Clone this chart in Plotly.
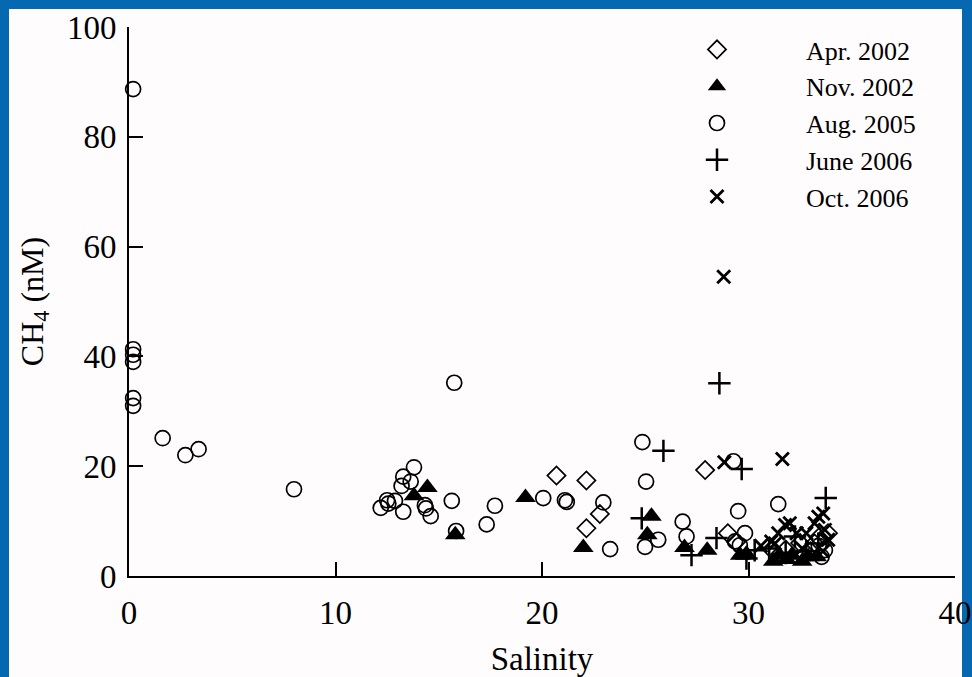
import plotly.graph_objects as go

# ---- data (salinity, CH4 nM) ----
apr2002_sal = [20.7, 22.15, 22.15, 22.8, 27.9, 29.0, 29.4, 31.0, 31.8, 32.5, 33.2, 33.4, 33.85, 33.0]
apr2002_ch4 = [18.3, 17.4, 8.7, 11.3, 19.3, 7.8, 6.2, 5.3, 4.8, 6.0, 5.9, 7.0, 7.8, 4.5]

nov2002_sal = [13.8, 14.45, 15.8, 19.2, 22.0, 25.1, 25.3, 26.9, 28.0, 29.6, 29.9, 31.2, 31.5, 31.85, 32.1, 32.6, 32.9, 33.3]
nov2002_ch4 = [14.6, 16.1, 7.5, 14.3, 5.2, 7.5, 10.9, 5.2, 4.7, 3.8, 4.0, 2.7, 3.8, 3.0, 3.8, 2.7, 3.5, 3.5]

aug2005_sal = [0.2, 0.2, 0.2, 0.2, 0.2, 0.2, 1.63, 2.73, 3.37, 7.99, 12.19, 12.5, 12.56, 12.88,
               13.2, 13.28, 13.28, 13.64, 13.8, 14.33, 14.38, 14.61, 15.63, 15.75, 15.84, 17.32,
               17.72, 20.06, 21.11, 21.2, 22.97, 23.3, 24.86, 25.04, 24.99, 25.63, 26.81, 27.0,
               29.27, 29.5, 29.83, 29.35, 29.58, 31.44, 33.54, 33.7, 33.4]
aug2005_ch4 = [88.7, 41.3, 40.3, 39.0, 32.4, 31.0, 25.1, 22.0, 23.1, 15.8, 12.4, 13.8, 13.2, 13.7,
               16.4, 18.1, 11.7, 17.2, 19.8, 12.9, 12.3, 10.9, 13.7, 35.2, 8.2, 9.4,
               12.8, 14.2, 13.8, 13.5, 13.4, 4.9, 24.4, 17.2, 5.3, 6.6, 9.9, 7.2,
               20.9, 11.8, 7.8, 6.3, 5.6, 13.1, 3.5, 4.7, 5.5]

jun2006_sal = [24.83, 25.88, 27.24, 28.45, 28.59, 29.67, 29.9, 30.3, 31.0, 32.25, 33.38, 33.74, 31.8, 32.8]
jun2006_ch4 = [10.5, 22.8, 3.8, 6.9, 35.1, 19.5, 3.2, 4.7, 5.0, 7.2, 5.9, 14.2, 4.2, 4.5]

oct2006_sal = [28.8, 28.83, 31.64, 30.6, 31.28, 31.44, 31.77, 32.0, 32.33, 32.8, 33.2, 33.38, 33.62, 33.7, 33.86, 31.1, 32.6, 33.6]
oct2006_ch4 = [54.5, 20.7, 21.3, 5.5, 5.9, 7.8, 9.3, 9.6, 7.8, 7.8, 9.6, 10.8, 11.4, 8.4, 6.6, 6.3, 5.0, 4.5]

x_ticks = [0, 10, 20, 30, 40]
y_ticks = [0, 20, 40, 60, 80, 100]

FONT = "Liberation Serif"
BLUE = "#0568b1"
BG = "#fffcfe"

fig = go.Figure()

series = [
    ("Apr. 2002", apr2002_sal, apr2002_ch4, dict(symbol="diamond-open", size=14, color="black", line=dict(width=1.7, color="black"))),
    ("Nov. 2002", nov2002_sal, nov2002_ch4, dict(symbol="triangle-up", size=18, color="black", line=dict(width=0))),
    ("Aug. 2005", aug2005_sal, aug2005_ch4, dict(symbol="circle-open", size=15, color="black", line=dict(width=1.7, color="black"))),
    ("June 2006", jun2006_sal, jun2006_ch4, dict(symbol="cross-thin-open", size=16, color="black", line=dict(width=2.5, color="black"))),
    ("Oct. 2006", oct2006_sal, oct2006_ch4, dict(symbol="x-thin-open", size=13, color="black", line=dict(width=2.8, color="black"))),
]

for i, (name, xs, ys, mk) in enumerate(series):
    fig.add_trace(go.Scatter(x=xs, y=ys, mode="markers", name=name, marker=mk,
                             cliponaxis=False, legendgroup=f"g{i}"))

L, R, T, B = 129, 17, 27, 101
W, H = 972, 677
pw, ph = W - L - R, H - T - B

def px2paper_x(px):
    return (px - L) / pw

def px2paper_y(py):
    return (H - B - py) / ph

# white page inside the blue frame
fig.add_shape(type="rect", xref="paper", yref="paper", layer="below",
              x0=px2paper_x(9), x1=px2paper_x(962), y0=px2paper_y(H + 5), y1=px2paper_y(9),
              fillcolor=BG, line=dict(width=0))

fig.update_layout(
    width=W, height=H,
    margin=dict(l=L, r=R, t=T, b=B, autoexpand=False),
    paper_bgcolor=BLUE,
    plot_bgcolor="rgba(0,0,0,0)",
    font=dict(family=FONT, color="black", size=33),
    showlegend=True,
    legend=dict(
        x=px2paper_x(628), y=px2paper_y(26), xanchor="left", yanchor="top",
        bgcolor="rgba(0,0,0,0)", font=dict(family=FONT, size=26, color="black"),
        itemwidth=168, tracegroupgap=0, itemsizing="trace",
    ),
    xaxis=dict(
        range=[0, 40], tickvals=x_ticks, ticktext=[str(v) for v in x_ticks],
        showgrid=False, zeroline=False, showline=True, linecolor="black", linewidth=2,
        ticks="inside", ticklen=14, tickwidth=1.5, tickcolor="black", automargin=False,
        tickfont=dict(family=FONT, size=33), ticklabelstandoff=6,
        title=dict(text="Salinity", font=dict(family=FONT, size=33), standoff=20),
    ),
    yaxis=dict(
        range=[0, 100], tickvals=y_ticks, ticktext=[str(v) for v in y_ticks],
        showgrid=False, zeroline=False, showline=True, linecolor="black", linewidth=2,
        ticks="inside", ticklen=14, tickwidth=1.5, tickcolor="black", automargin=False,
        tickfont=dict(family=FONT, size=33), ticklabelstandoff=4,
        title=dict(text="CH<sub>4</sub> (nM)", font=dict(family=FONT, size=32), standoff=14),
    ),
)

fig.write_html("out.html")
